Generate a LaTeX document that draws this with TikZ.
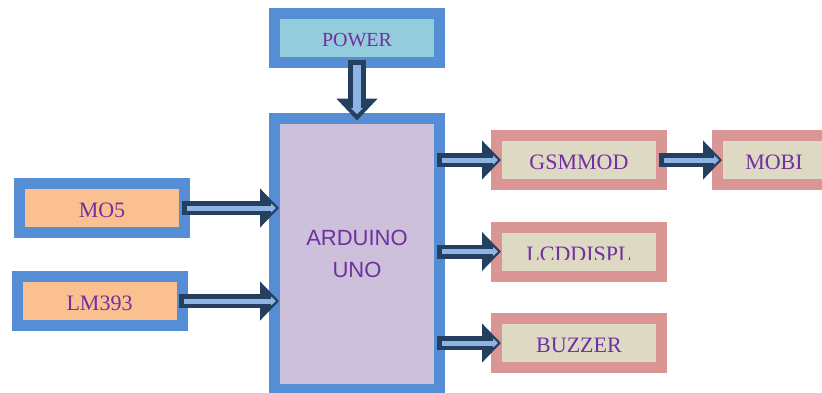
\documentclass[tikz,border=0pt]{standalone}
\usepackage{fontspec}
\setmainfont{Liberation Serif}
\newfontfamily\ardfont{Liberation Sans}
\usetikzlibrary{arrows.meta}
\definecolor{boxblue}{HTML}{558ED5}
\definecolor{boxpink}{HTML}{D99694}
\definecolor{boxbeige}{HTML}{DDD9C3}
\definecolor{boxorange}{HTML}{FAC090}
\definecolor{boxlilac}{HTML}{CCC0DA}
\definecolor{boxcyan}{HTML}{93CDDD}
\definecolor{txtpurple}{HTML}{7030A0}
\definecolor{arrdark}{HTML}{243F60}
\definecolor{arrlight}{HTML}{8EB4E3}

\newcommand{\flow}[2]{%
  \draw[darr] #1 -- #2;
  \draw[larr] #1 -- #2;}

\begin{document}
\begin{tikzpicture}[x=1pt, y=-1pt,
  blkbase/.style={draw=boxblue, line width=11pt, inner sep=0pt, outer sep=0pt,
    minimum width=165pt, minimum height=49pt, text=txtpurple},
  blk/.style={blkbase, font=\fontsize{22}{26}\selectfont, text height=19.6pt},
  outblk/.style={blk, draw=boxpink, fill=boxbeige},
  darr/.style={draw=arrdark, line width=14pt, -{Triangle[length=19pt 0 0,width=38pt 0 0]},
    shorten <=-3pt, shorten >=-4.5pt},
  larr/.style={draw=arrlight, line width=5pt, -{Triangle[length=5pt 0 0,width=9pt 0 0]},
    shorten <=2pt, shorten >=-1.5pt}]
\useasboundingbox (0,0) rectangle (822,392);

% blocks
\node[blkbase, fill=boxcyan, font=\fontsize{20}{24}\selectfont, text height=17.2pt] (power) at (357,38) {POWER};
\node[blkbase, fill=boxlilac, minimum height=271pt, align=center,
  font=\ardfont\fontsize{22}{32}\selectfont] (ard) at (357,253.5) {ARDUINO\\UNO};
\node[blk, fill=boxorange] (mo5) at (102,208) {MO5};
\node[blk, fill=boxorange] (lm) at (99.5,301) {LM393};
\node[outblk] (gsm) at (579,160) {GSMMOD};
\node[outblk, minimum width=113pt] (mobi) at (774,160) {MOBI};
\node[outblk] (lcd) at (579,251.5) {};
\begin{scope}
  \clip (502,233) rectangle (656,259.5);
  \node[blk, draw=none, fill=none] (lcdtext) at (lcd) {LCDDISPL};
\end{scope}
\node[outblk] (buz) at (579,343) {BUZZER};

% arrows
\draw[darr, line width=18pt, -{Triangle[length=22pt 0 0,width=40pt 0 0]},
  shorten <=-2.5pt, shorten >=-2.5pt] (power.south) -- (power.south |- ard.north);
\draw[larr, line width=8pt, -{Triangle[length=6pt 0 0,width=12pt 0 0]},
  shorten <=2.5pt, shorten >=4pt] (power.south) -- (power.south |- ard.north);
\flow{(mo5.east)}{(mo5.east -| ard.west)}
\flow{(lm.east)}{(lm.east -| ard.west)}
\flow{(gsm.west -| ard.east)}{(gsm.west)}
\flow{(lcd.west -| ard.east)}{(lcd.west)}
\flow{(buz.west -| ard.east)}{(buz.west)}
\flow{(gsm.east)}{(mobi.west)}

\end{tikzpicture}
\end{document}
